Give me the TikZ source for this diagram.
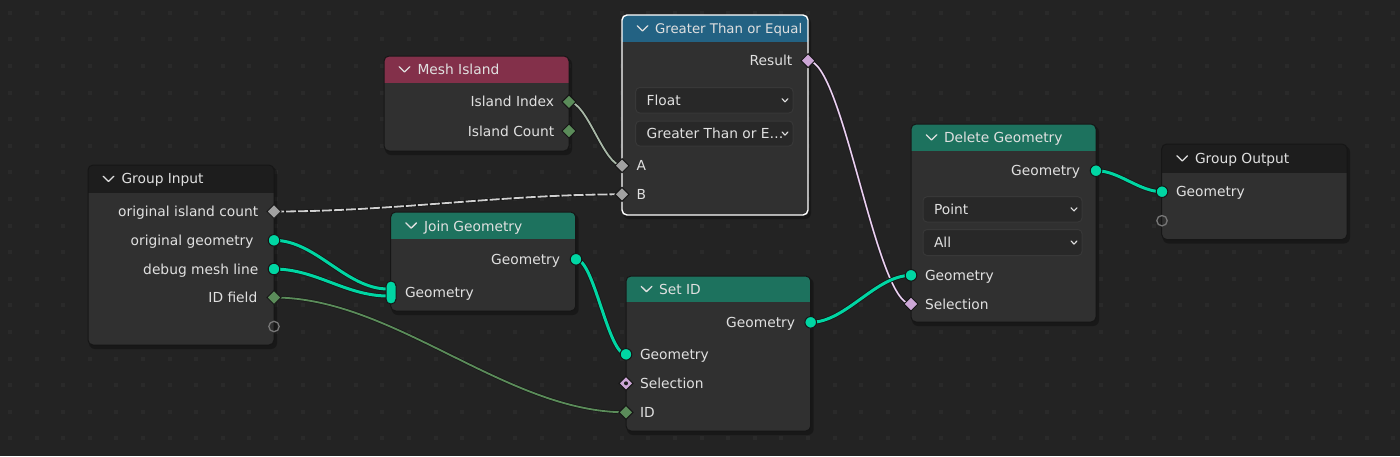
\documentclass[tikz,border=0pt]{standalone}
\usepackage{fontspec}
\setmainfont{DejaVu Sans}
\usetikzlibrary{calc}
\definecolor{bg}{HTML}{232323}
\definecolor{griddot}{HTML}{2A2A2A}
\definecolor{nbody}{HTML}{303030}
\definecolor{hdark}{HTML}{1D1D1D}
\definecolor{hred}{HTML}{83304A}
\definecolor{hblue}{HTML}{236283}
\definecolor{hgreen}{HTML}{1D725E}
\definecolor{geo}{HTML}{00D6A3}
\definecolor{intg}{HTML}{5B8C5A}
\definecolor{flt}{HTML}{A1A1A1}
\definecolor{boolc}{HTML}{CCA6D6}
\definecolor{txt}{HTML}{E0E0E0}
\definecolor{ddfill}{HTML}{282828}
\definecolor{ddline}{HTML}{383838}
\definecolor{linkab}{HTML}{A8B8A7}
\definecolor{linkb}{HTML}{D0D0D0}
\definecolor{ringc}{HTML}{767676}
\definecolor{edge}{HTML}{161616}

\tikzset{
  lbl/.style={text=txt, font=\fontsize{6.9pt}{8pt}\selectfont, inner sep=0pt, outer sep=0pt},
  chev/.style={draw=txt, line width=0.65pt, line cap=round, line join=round},
  ddchev/.style={draw=txt, line width=0.55pt, line cap=round, line join=round},
  under/.style={preaction={draw=edge, line width=#1}},
  geolink/.style={draw=geo, line width=1.5pt, under=2.3pt},
  fieldlink/.style={line width=0.9pt, under=1.6pt},
  sockgeo/.style={fill=geo, draw=edge, line width=0.5pt},
  sockline/.style={draw=edge, line width=0.5pt},
}

\newcommand\nbox[7]{%
  \fill[black, opacity=0.3, rounded corners=3pt] (#1+1,#2+2) rectangle (#3+3,#4+4);
  \begin{scope}
    \clip[rounded corners=2.5pt] (#1,#2) rectangle (#3,#4);
    \fill[nbody] (#1,#2) rectangle (#3,#4);
    \fill[#6] (#1,#2) rectangle (#3,#5);
  \end{scope}
  \draw[#7, rounded corners=2.5pt] (#1,#2) rectangle (#3,#4);
  \draw[chev] ({#1+20.5-5.3},{(#2+#5)/2-2.6}) -- ({#1+20.5},{(#2+#5)/2+2.6}) -- ({#1+20.5+5.3},{(#2+#5)/2-2.6});
}
\newcommand\ddbox[6]{%
  \filldraw[fill=ddfill, draw=ddline, line width=0.5pt, rounded corners=2pt] (#1,#2) rectangle (#3,#4);
  \node[lbl, anchor=base west] (#6) at ({#1+11},{(#2+#4)/2+5}) {#5};
  \draw[ddchev] ({#3-11},{(#2+#4)/2-1.6}) -- ({#3-8},{(#2+#4)/2+1.6}) -- ({#3-5},{(#2+#4)/2-1.6});
}
\newcommand\sockc[1]{\filldraw[sockgeo] (#1) circle[radius=2.9pt];}
\newcommand\sockd[2]{\filldraw[fill=#2, sockline] (#1) ++(-7,0) -- ++(7,-7) -- ++(7,7) -- ++(-7,7) -- cycle;}
\newcommand\sockr[1]{\draw[ringc, line width=0.65pt] (#1) circle[radius=2.6pt];}

\begin{document}
\begin{tikzpicture}[x=0.5pt, y=-0.5pt]
\useasboundingbox (0,0) rectangle (1400,456);
\fill[bg] (0,0) rectangle (1400,456);
\foreach \i in {0,...,52}{\foreach \j in {0,...,16}{
  \fill[griddot] ({8+26.6*\i},{10.7+26.6*\j}) rectangle ++(4,4);}}

% socket coordinates
\coordinate (gi-cnt) at (274,211.5);
\coordinate (gi-geo) at (274,240.3);
\coordinate (gi-dbg) at (274,269);
\coordinate (gi-id) at (274,297.5);
\coordinate (gi-empty) at (274,326.5);
\coordinate (mi-idx) at (569,101.8);
\coordinate (mi-cnt) at (569,131);
\coordinate (ge-res) at (808,60.7);
\coordinate (ge-a) at (622,165.7);
\coordinate (ge-b) at (622,194.3);
\coordinate (jg-out) at (576,259.3);
\coordinate (jg-in1) at (388,289);
\coordinate (jg-in2) at (388,296);
\coordinate (si-out) at (810.7,322.3);
\coordinate (si-geo) at (626,354.3);
\coordinate (si-sel) at (626,383.3);
\coordinate (si-id) at (626,412.3);
\coordinate (dg-out) at (1096,170.7);
\coordinate (dg-geo) at (911,275.3);
\coordinate (dg-sel) at (911,304);
\coordinate (go-geo) at (1162,191.7);
\coordinate (go-empty) at (1162,220.7);

% links
\draw[fieldlink, draw=linkab] (mi-idx) .. controls +(18,0) and +(-18,0) .. (ge-a);
\draw[draw=linkb, line width=0.9pt, dash pattern=on 5pt off 1pt, preaction={draw=edge, line width=1.6pt, solid}] (gi-cnt) .. controls +(120,0) and +(-120,0) .. (ge-b);
\draw[geolink] (gi-geo) .. controls +(42,0) and +(-42,0) .. (jg-in1);
\draw[geolink] (gi-dbg) .. controls +(42,0) and +(-42,0) .. (jg-in2);
\draw[geolink] (jg-out) .. controls +(18,0) and +(-18,0) .. (si-geo);
\draw[fieldlink, draw=intg] (gi-id) .. controls +(120,0) and +(-120,0) .. (si-id);
\draw[fieldlink, draw=boolc, postaction={draw=white!80!boolc, line width=0.3pt}] (ge-res) .. controls +(35,0) and +(-35,0) .. (dg-sel);
\draw[geolink] (si-out) .. controls +(35,0) and +(-35,0) .. (dg-geo);
\draw[geolink] (dg-out) .. controls +(23,0) and +(-23,0) .. (go-geo);

% Group Input
\nbox{88}{165}{274}{345}{192.7}{hdark}{draw=edge, line width=0.5pt}
\node[lbl, anchor=base west] (gi-title) at (121.5,183.8) {Group Input};
\node[lbl, anchor=base east] (gi-l1) at (258.3,216.5) {original island count};
\node[lbl, anchor=base east] (gi-l2) at (253.5,245.3) {original geometry};
\node[lbl, anchor=base east] (gi-l3) at (258.3,274) {debug mesh line};
\node[lbl, anchor=base east] (gi-l4) at (257.3,302.5) {ID field};

% Mesh Island
\nbox{384}{56}{569}{151}{82.7}{hred}{draw=edge, line width=0.5pt}
\node[lbl, anchor=base west] (mi-title) at (417.5,74.3) {Mesh Island};
\node[lbl, anchor=base east] (mi-l1) at (554,106.8) {Island Index};
\node[lbl, anchor=base east] (mi-l2) at (554.3,136) {Island Count};

% Greater Than or Equal (selected)
\nbox{622}{15}{808}{215}{41.7}{hblue}{draw=white, line width=0.7pt}
\node[lbl, anchor=base west, font=\fontsize{6.65pt}{8pt}\selectfont] (ge-title) at (655,33) {Greater Than or Equal};
\node[lbl, anchor=base east] (ge-l1) at (792.3,65.7) {Result};
\ddbox{635.7}{87.5}{793}{113}{Float}{ge-dd1}
\ddbox{635.7}{121}{793}{146}{Greater Than or E…}{ge-dd2}
\node[lbl, anchor=base west] (ge-la) at (636.7,170.7) {A};
\node[lbl, anchor=base west] (ge-lb) at (636.7,199.3) {B};

% Join Geometry
\nbox{390.7}{212}{575.7}{311}{239}{hgreen}{draw=edge, line width=0.5pt}
\node[lbl, anchor=base west] (jg-title) at (424,231) {Join Geometry};
\node[lbl, anchor=base east] (jg-l1) at (560,264.3) {Geometry};
\node[lbl, anchor=base west] (jg-l2) at (405,297) {Geometry};

% Set ID
\nbox{626}{276}{810.7}{431}{302}{hgreen}{draw=edge, line width=0.5pt}
\node[lbl, anchor=base west] (si-title) at (659,294) {Set ID};
\node[lbl, anchor=base east] (si-l1) at (795,327.3) {Geometry};
\node[lbl, anchor=base west] (si-l2) at (640,359.3) {Geometry};
\node[lbl, anchor=base west] (si-l3) at (640,388.3) {Selection};
\node[lbl, anchor=base west] (si-l4) at (640,417.3) {ID};

% Delete Geometry
\nbox{911}{124}{1096}{322}{150.7}{hgreen}{draw=edge, line width=0.5pt}
\node[lbl, anchor=base west] (dg-title) at (944,142) {Delete Geometry};
\node[lbl, anchor=base east] (dg-l1) at (1080,175.7) {Geometry};
\ddbox{923}{196.7}{1082}{222}{Point}{dg-dd1}
\ddbox{923}{229.5}{1082}{255.5}{All}{dg-dd2}
\node[lbl, anchor=base west] (dg-l2) at (925,280.3) {Geometry};
\node[lbl, anchor=base west] (dg-l3) at (925,309) {Selection};

% Group Output
\nbox{1161.7}{144}{1347}{239.5}{172.7}{hdark}{draw=edge, line width=0.5pt}
\node[lbl, anchor=base west] (go-title) at (1195,163.3) {Group Output};
\node[lbl, anchor=base west] (go-l1) at (1176,196.7) {Geometry};

% sockets
\sockd{gi-cnt}{flt}
\sockc{gi-geo}
\sockc{gi-dbg}
\sockd{gi-id}{intg}
\sockr{gi-empty}
\sockd{mi-idx}{intg}
\sockd{mi-cnt}{intg}
\sockd{ge-res}{boolc}
\sockd{ge-a}{flt}
\sockd{ge-b}{flt}
\sockc{jg-out}
\filldraw[sockgeo, rounded corners=2.4pt] (386,281) rectangle (396,304);
\sockc{si-out}
\sockc{si-geo}
\sockd{si-sel}{boolc}
\fill[nbody!60!black] (si-sel) circle[radius=1pt];
\sockd{si-id}{intg}
\sockc{dg-out}
\sockc{dg-geo}
\sockd{dg-sel}{boolc}
\sockc{go-geo}
\sockr{go-empty}
\end{tikzpicture}
\end{document}
